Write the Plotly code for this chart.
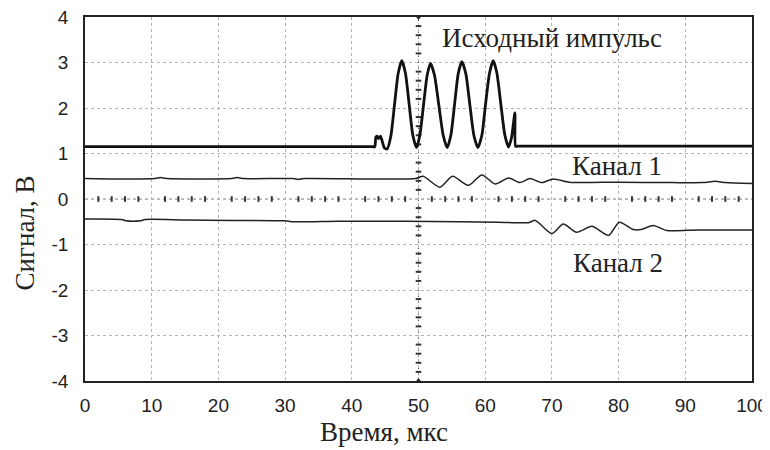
import plotly.graph_objects as go

# ---- data ----
pulse_t = [0, 10, 20, 30, 40, 43.0, 43.45, 43.6, 43.8, 44.0, 44.3, 44.5, 44.9, 45.3,
           45.85, 46.4, 46.95, 47.5, 48.05, 48.6, 49.15, 49.7,
           50.2, 50.75, 51.3, 51.8, 52.4, 53.05, 53.7, 54.3,
           54.85, 55.4, 55.95, 56.5, 57.1, 57.7, 58.3, 58.9,
           59.5, 60.05, 60.65, 61.2, 61.75, 62.35, 62.95, 63.5,
           63.95, 64.45, 64.55, 64.8, 66, 70, 80, 90, 100]
pulse_v = [1.15, 1.15, 1.15, 1.15, 1.15, 1.15, 1.15, 1.36, 1.38, 1.33, 1.38, 1.30, 1.12, 1.10,
           1.38, 2.07, 2.76, 3.04, 2.76, 2.08, 1.40, 1.13,
           1.40, 2.06, 2.72, 2.98, 2.72, 2.06, 1.40, 1.13,
           1.40, 2.07, 2.75, 3.02, 2.75, 2.07, 1.40, 1.13,
           1.40, 2.08, 2.77, 3.04, 2.77, 2.08, 1.40, 1.14,
           1.35, 1.89, 1.16, 1.16, 1.16, 1.16, 1.16, 1.16, 1.16]

ch1_t = [0, 5, 10.5, 11.3, 12.2, 22.0, 22.8, 23.6, 31.2, 32.0, 32.8, 49.6, 50.7, 53.2, 55.1, 57.5,
         59.5, 61.5, 63.5, 65.2, 66.7, 68.5, 70.2, 72.6, 80, 88, 92.6, 94.5, 96.0, 100]
ch1_v = [0.45, 0.44, 0.45, 0.47, 0.45, 0.45, 0.47, 0.45, 0.45, 0.43, 0.45, 0.45, 0.50, 0.26, 0.50, 0.30,
         0.53, 0.33, 0.46, 0.36, 0.45, 0.36, 0.44, 0.37, 0.37, 0.36, 0.36, 0.39, 0.36, 0.34]

ch2_t = [0, 5.5, 6.2, 8.3, 9.0, 15, 22, 30, 31, 38, 48, 56, 62, 66.5, 67.5, 70.0, 71.7, 73.7,
         76.0, 78.5, 80.1, 82.2, 83.4, 85.2, 87.2, 92, 100]
ch2_v = [-0.44, -0.45, -0.48, -0.48, -0.45, -0.46, -0.47, -0.48, -0.50, -0.49, -0.49, -0.50, -0.51, -0.52, -0.47,
         -0.76, -0.55, -0.73, -0.60, -0.80, -0.51, -0.67, -0.67, -0.58, -0.69, -0.68, -0.68]

x_ticks = [0, 10, 20, 30, 40, 50, 60, 70, 80, 90, 100]
y_ticks = [-4, -3, -2, -1, 0, 1, 2, 3, 4]
y_tick_text = ["-4", "-3", "-2", "-1", "0", "1", "2", "3", "4"]

# crosshair minor ticks (oscilloscope style)
h_minor = [v for v in range(2, 100, 2) if v % 10 != 0]              # every 2 us
v_minor = [round(k * 0.2, 1) for k in range(-19, 20) if k % 5 != 0]  # every 0.2 V

labels_text = ["Исходный импульс", "Канал 1", "Канал 2"]
labels_x = [70.0, 79.8, 79.9]
labels_y = [3.53, 0.72, -1.40]

x_title = "Время, мкс"
y_title = "Сигнал, В"

fig = go.Figure()

# crosshair lines
fig.add_shape(type="line", x0=0, x1=100, y0=0, y1=0, xref="x", yref="y",
              line=dict(color="#888", width=1, dash="dot"), layer="below")
fig.add_shape(type="line", x0=50, x1=50, y0=-4, y1=4, xref="x", yref="y",
              line=dict(color="#555", width=1, dash="dot"), layer="below")

fig.add_trace(go.Scatter(x=h_minor, y=[0] * len(h_minor), mode="markers",
                         marker=dict(symbol="line-ns", size=4, line=dict(color="#333", width=2)),
                         hoverinfo="skip", showlegend=False))
fig.add_trace(go.Scatter(x=[50] * len(v_minor), y=v_minor, mode="markers",
                         marker=dict(symbol="line-ew", size=4, line=dict(color="#333", width=2)),
                         hoverinfo="skip", showlegend=False))
fig.add_trace(go.Scatter(x=[50, 50], y=[4, -4], mode="markers",
                         marker=dict(symbol=["triangle-down", "triangle-up"], size=6, color="#222"),
                         hoverinfo="skip", showlegend=False, cliponaxis=False))

fig.add_trace(go.Scatter(x=ch1_t, y=ch1_v, mode="lines",
                         line=dict(color="#222", width=1.5, shape="spline", smoothing=0.7),
                         showlegend=False))
fig.add_trace(go.Scatter(x=ch2_t, y=ch2_v, mode="lines",
                         line=dict(color="#222", width=1.5, shape="spline", smoothing=0.7),
                         showlegend=False))
fig.add_trace(go.Scatter(x=pulse_t, y=pulse_v, mode="lines",
                         line=dict(color="#111", width=2.8, shape="spline", smoothing=0.6),
                         showlegend=False))

for t, x, y in zip(labels_text, labels_x, labels_y):
    fig.add_annotation(x=x, y=y, text=t, showarrow=False, xref="x", yref="y",
                       font=dict(family="Liberation Serif", size=27, color="#222"))

# axis titles as annotations (fixed positions)
fig.add_annotation(x=0.449, y=0, xref="paper", yref="paper", yshift=-51, text=x_title,
                   showarrow=False, yanchor="middle",
                   font=dict(family="Liberation Serif", size=27, color="#222"))
fig.add_annotation(x=0, y=0.405, xref="paper", yref="paper", xshift=-60, text=y_title,
                   showarrow=False, textangle=-90, xanchor="center", yanchor="middle",
                   font=dict(family="Liberation Serif", size=27, color="#222"))

axis_common = dict(showline=True, linecolor="#222", linewidth=1.5, mirror=True,
                   showgrid=True, gridcolor="#b5b5b5", griddash="dot", gridwidth=1,
                   zeroline=False, ticks="", automargin=False, ticklabeloverflow="allow",
                   tickfont=dict(family="Liberation Sans", size=19, color="#222"))

fig.update_xaxes(range=[0, 100], tickvals=x_ticks, ticklabelstandoff=6, **axis_common)
fig.update_yaxes(range=[-4, 4], tickvals=y_ticks, ticktext=y_tick_text, ticklabelstandoff=11,
                 **axis_common)

# the page adds an 8px body margin, so the figure is 8px smaller than the window
fig.update_layout(width=762, height=442, margin=dict(l=77, r=18, t=9, b=69),
                  paper_bgcolor="white", plot_bgcolor="white")

fig.write_html("out.html")
